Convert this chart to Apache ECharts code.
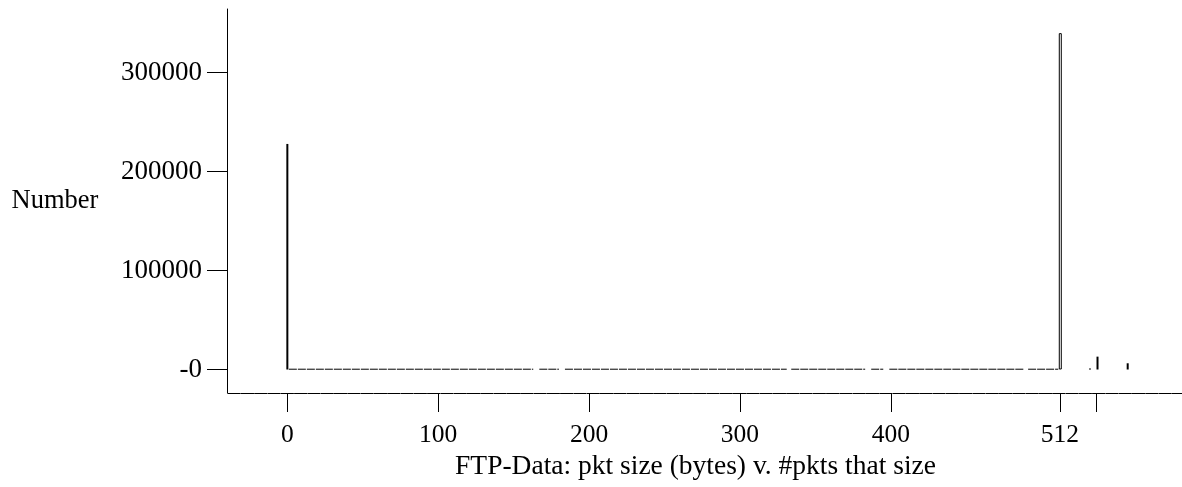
<!DOCTYPE html>
<html>
<head>
<meta charset="utf-8">
<title>FTP-Data packet sizes</title>
<script src="https://cdn.jsdelivr.net/npm/echarts@6/dist/echarts.min.js"></script>
<style>
  html, body { margin: 0; padding: 0; background: #fff; }
  #chart { width: 1182px; height: 487px; }
</style>
</head>
<body>
<div id="chart"></div>
<script>
// spikes: packet size (bytes) -> number of packets
const spikeSizes = [0, 532, 537, 557];
const spikeCounts = [228000, 1000, 13000, 6300];

// the tallest spike, drawn as an outlined bar
const peakSizes = [512];
const peakCounts = [340000];

// the long run of tiny counts between the two spikes (broken where a size is missing)
const baseStart = [1, 167, 184, 334, 387, 399, 491];
const baseEnd = [163, 180, 331, 383, 395, 488, 511];
const baseCount = 300;

// axis ticks
const xTicks = [0, 100, 200, 300, 400, 512, 536];
const xLabels = [0, 100, 200, 300, 400, 512];
const yTicks = [0, 100000, 200000, 300000];

const FONT = '"Liberation Serif", "DejaVu Serif", serif';

const chart = echarts.init(document.getElementById('chart'));

// build the baseline with breaks between the runs
const baseData = [];
baseStart.forEach((s, i) => {
  baseData.push([s, baseCount]);
  baseData.push([baseEnd[i], baseCount]);
  baseData.push([baseEnd[i] + 1, '-']);
});

const spikeData = spikeSizes.map((s, i) => [s, spikeCounts[i]]);
const peakData = peakSizes.map((s, i) => [s, peakCounts[i]]);

const option = {
  backgroundColor: '#fff',
  animation: false,
  textStyle: { fontFamily: FONT },
  grid: { left: 227, right: 0, top: 9, bottom: 94, outerBoundsMode: 'none' },
  xAxis: {
    type: 'value',
    min: -40,
    max: 593,
    name: 'FTP-Data: pkt size (bytes) v. #pkts that size',
    nameLocation: 'middle',
    nameGap: 60,
    nameTextStyle: { fontFamily: FONT, fontSize: 27.5, color: '#000', padding: [0, 18, 0, 0] },
    axisLine: {
      onZero: false,
      lineStyle: { color: '#000', width: 1, type: [12.3, 1], dashOffset: 12.3 }
    },
    axisTick: { show: true, length: 19, lineStyle: { color: '#000' }, customValues: xTicks },
    axisLabel: { margin: 29, fontFamily: FONT, fontSize: 25.5, color: '#000', customValues: xLabels },
    splitLine: { show: false }
  },
  yAxis: {
    type: 'value',
    min: -23750,
    max: 364400,
    name: 'Number',
    nameLocation: 'middle',
    nameRotate: 0,
    nameGap: 172,
    nameTextStyle: { fontFamily: FONT, fontSize: 26.5, color: '#000', align: 'center', verticalAlign: 'middle' },
    axisLine: { show: true, onZero: false, lineStyle: { color: '#000', width: 1 } },
    axisTick: { show: true, length: 20, lineStyle: { color: '#000' }, customValues: yTicks },
    axisLabel: {
      margin: 25,
      fontFamily: FONT,
      fontSize: 27,
      color: '#000',
      customValues: yTicks,
      formatter: (v) => (v === 0 ? '-0' : String(v))
    },
    splitLine: { show: false }
  },
  series: [
    {
      type: 'line',
      data: baseData,
      symbol: 'none',
      connectNulls: false,
      lineStyle: { color: '#000', width: 1, type: [8, 1] },
      silent: true
    },
    {
      type: 'bar',
      data: peakData,
      barWidth: 3,
      barGap: '-100%',
      itemStyle: { color: '#fff', borderColor: '#000', borderWidth: 1 },
      silent: true
    },
    {
      type: 'bar',
      data: spikeData,
      barWidth: 2,
      barGap: '-100%',
      itemStyle: { color: '#000' },
      silent: true
    }
  ]
};

chart.setOption(option);
window.addEventListener('resize', () => chart.resize());
</script>
</body>
</html>
